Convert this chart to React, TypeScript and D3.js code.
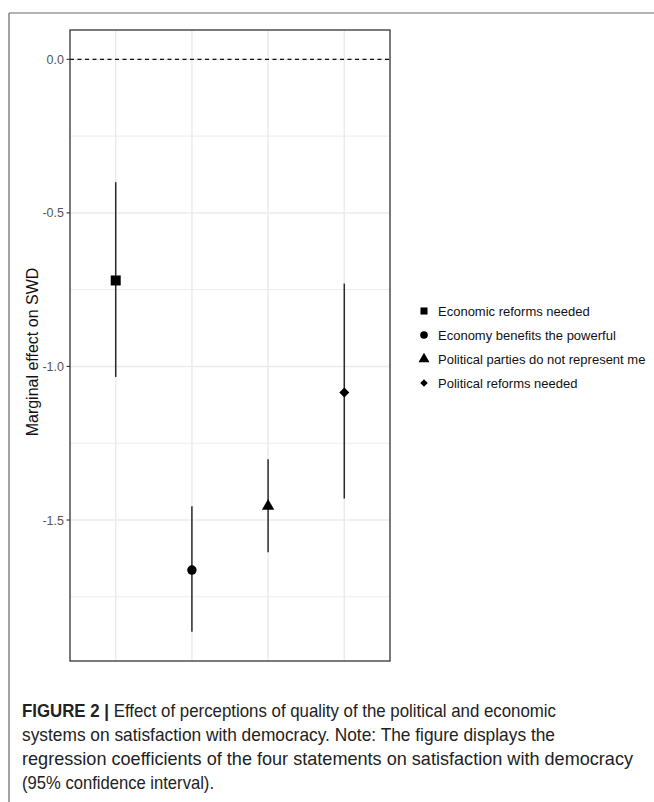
import React from "react";
import * as d3 from "d3";

const categories = [
  "Economic reforms needed",
  "Economy benefits the powerful",
  "Political parties do not represent me",
  "Political reforms needed",
];
const estimates = [-0.72, -1.663, -1.455, -1.085];
const lowerCI = [-1.034, -1.864, -1.605, -1.43];
const upperCI = [-0.40, -1.455, -1.302, -0.73];
const shapes = ["square", "circle", "triangle", "diamond"];
const yTicks = [0.0, -0.5, -1.0, -1.5];
const yMinor = [-0.25, -0.75, -1.25, -1.75];
const captionLines = [
  "Effect of perceptions of quality of the political and economic",
  "systems on satisfaction with democracy. Note: The figure displays the",
  "regression coefficients of the four statements on satisfaction with democracy",
  "(95% confidence interval).",
];
const captionWidths = [534, 533, 611, 192];

const W = 654;
const H = 802;
const panel = { left: 70, right: 390, top: 30, bottom: 661 };

function symbolPath(shape: string, size: number) {
  if (shape === "diamond") {
    const r = Math.sqrt(size / 2);
    return `M0,${-r}L${r},0L0,${r}L${-r},0Z`;
  }
  const t =
    shape === "square"
      ? d3.symbolSquare
      : shape === "circle"
      ? d3.symbolCircle
      : d3.symbolTriangle;
  return d3.symbol().type(t).size(size)() || "";
}

const sizes: Record<string, number> = { square: 100, circle: 70, triangle: 66, diamond: 50 };
const legendSizes: Record<string, number> = { square: 50, circle: 46, triangle: 52, diamond: 28 };

export default function App() {
  const y = d3
    .scaleLinear()
    .domain([0.0955, -1.959])
    .range([panel.top, panel.bottom]);
  const x = d3
    .scaleLinear()
    .domain([0.4, 4.6])
    .range([panel.left, panel.right]);

  const font = "'Liberation Sans', Arial, sans-serif";

  return (
    <svg
      width={W}
      height={H}
      style={{ position: "absolute", left: 0, top: 0, background: "#fff" }}
    >
      {/* outer frame */}
      <line x1={9} y1={13} x2={W} y2={13} stroke="#666" strokeWidth={1.2} />
      <line x1={9} y1={13} x2={9} y2={H} stroke="#666" strokeWidth={1.2} />

      {/* gridlines */}
      {yMinor.map((v) => (
        <line key={"mn" + v} x1={panel.left} x2={panel.right} y1={y(v)} y2={y(v)} stroke="#ebebeb" strokeWidth={1} />
      ))}
      {yTicks.map((v) => (
        <line key={"mj" + v} x1={panel.left} x2={panel.right} y1={y(v)} y2={y(v)} stroke="#ebebeb" strokeWidth={1.5} />
      ))}
      {categories.map((c, i) => (
        <line key={"vx" + c} x1={x(i + 1)} x2={x(i + 1)} y1={panel.top} y2={panel.bottom} stroke="#ebebeb" strokeWidth={1.5} />
      ))}

      {/* zero line */}
      <line x1={panel.left} x2={panel.right} y1={y(0)} y2={y(0)} stroke="#111" strokeWidth={1.3} strokeDasharray="4,3.5" />

      {/* error bars and points */}
      {categories.map((c, i) => (
        <g key={"pt" + c}>
          <line x1={x(i + 1)} x2={x(i + 1)} y1={y(upperCI[i])} y2={y(lowerCI[i])} stroke="#2a2a2a" strokeWidth={1.5} />
          <path
            d={symbolPath(shapes[i], sizes[shapes[i]])}
            transform={`translate(${x(i + 1)},${y(estimates[i])})`}
            fill="#000"
          />
        </g>
      ))}

      {/* panel border */}
      <rect
        x={panel.left}
        y={panel.top}
        width={panel.right - panel.left}
        height={panel.bottom - panel.top}
        fill="none"
        stroke="#333"
        strokeWidth={1.3}
      />

      {/* y axis ticks */}
      {yTicks.map((v) => (
        <g key={"yt" + v}>
          <line x1={panel.left - 3.5} x2={panel.left} y1={y(v)} y2={y(v)} stroke="#333" strokeWidth={1.1} />
          <text
            x={panel.left - 6}
            y={y(v)}
            dy="0.36em"
            textAnchor="end"
            fontFamily={font}
            fontSize={12.5}
            fill="#555"
          >
            {d3.format(".1f")(v).replace("−", "-")}
          </text>
        </g>
      ))}

      {/* y axis title */}
      <text
        transform={`translate(38,352) rotate(-90)`}
        textAnchor="middle"
        fontFamily={font}
        fontSize={16}
        fill="#111"
      >
        Marginal effect on SWD
      </text>

      {/* legend */}
      {categories.map((c, i) => (
        <g key={"lg" + c} transform={`translate(424,${311 + i * 24})`}>
          <path d={symbolPath(shapes[i], legendSizes[shapes[i]])} fill="#000" />
          <text x={14} y={0} dy="0.36em" fontFamily={font} fontSize={13} fill="#111">
            {c}
          </text>
        </g>
      ))}

      {/* caption */}
      <text
        x={22}
        y={717}
        fontFamily={font}
        fontSize={18.5}
        fill="#222"
        textLength={captionWidths[0]}
        lengthAdjust="spacingAndGlyphs"
      >
        <tspan fontWeight="bold">FIGURE 2 | </tspan>
        <tspan>{captionLines[0]}</tspan>
      </text>
      {captionLines.slice(1).map((l, i) => (
        <text
          key={"cap" + i}
          x={22}
          y={741 + i * 24}
          fontFamily={font}
          fontSize={18.5}
          fill="#222"
          textLength={captionWidths[i + 1]}
          lengthAdjust="spacingAndGlyphs"
        >
          {l}
        </text>
      ))}
    </svg>
  );
}
